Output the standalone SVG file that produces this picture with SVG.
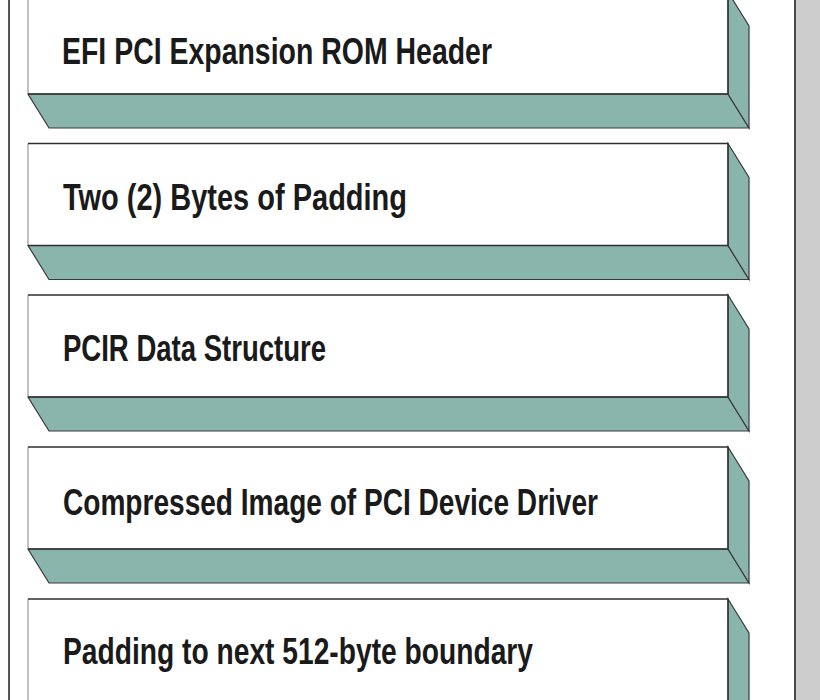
<svg xmlns="http://www.w3.org/2000/svg" width="820" height="700" viewBox="0 0 820 700">
<style>
.face{fill:#ffffff;stroke:none}
.edge{fill:none;stroke:#2f2f2f;stroke-width:1.3}
.ledge{fill:none;stroke:#a0a0a0;stroke-width:1.3}
.bev{fill:#89b5ad;stroke:#3a3a3a;stroke-width:1.2;stroke-linejoin:miter}
.lbl{font-family:"Liberation Sans",Arial,sans-serif;font-weight:bold;font-size:37px;fill:#1a1a1a}
</style>
<rect x="0" y="0" width="820" height="700" fill="#ffffff"/>
<line x1="9" y1="0" x2="9" y2="700" stroke="#555555" stroke-width="2"/>
<rect x="795" y="0" width="25" height="700" fill="#cccccc"/>
<line x1="795" y1="0" x2="795" y2="700" stroke="#4a4a4a" stroke-width="2"/>
<g id="box1" transform="translate(0,-8)">
<rect class="face" x="28" y="0" width="700" height="102"/>
<polygon class="bev" points="28,102 728,102 749,136 49,136"/>
<polygon class="bev" points="728,0 749,34 749,136 728,102"/>
<line class="ledge" x1="28" y1="0" x2="28" y2="102"/>
<polyline class="edge" points="28,0 728,0 728,102 28,102"/>
<text class="lbl" x="62" y="72" textLength="430" lengthAdjust="spacingAndGlyphs">EFI PCI Expansion ROM Header</text>
</g>
<g id="box2" transform="translate(0,143.5)">
<rect class="face" x="28" y="0" width="700" height="102"/>
<polygon class="bev" points="28,102 728,102 749,136 49,136"/>
<polygon class="bev" points="728,0 749,34 749,136 728,102"/>
<line class="ledge" x1="28" y1="0" x2="28" y2="102"/>
<polyline class="edge" points="28,0 728,0 728,102 28,102"/>
<text class="lbl" x="63" y="66" textLength="344" lengthAdjust="spacingAndGlyphs">Two (2) Bytes of Padding</text>
</g>
<g id="box3" transform="translate(0,295)">
<rect class="face" x="28" y="0" width="700" height="102"/>
<polygon class="bev" points="28,102 728,102 749,136 49,136"/>
<polygon class="bev" points="728,0 749,34 749,136 728,102"/>
<line class="ledge" x1="28" y1="0" x2="28" y2="102"/>
<polyline class="edge" points="28,0 728,0 728,102 28,102"/>
<text class="lbl" x="63" y="66" textLength="263" lengthAdjust="spacingAndGlyphs">PCIR Data Structure</text>
</g>
<g id="box4" transform="translate(0,447)">
<rect class="face" x="28" y="0" width="700" height="102"/>
<polygon class="bev" points="28,102 728,102 749,136 49,136"/>
<polygon class="bev" points="728,0 749,34 749,136 728,102"/>
<line class="ledge" x1="28" y1="0" x2="28" y2="102"/>
<polyline class="edge" points="28,0 728,0 728,102 28,102"/>
<text class="lbl" x="63" y="68" textLength="535" lengthAdjust="spacingAndGlyphs">Compressed Image of PCI Device Driver</text>
</g>
<g id="box5" transform="translate(0,599)">
<rect class="face" x="28" y="0" width="700" height="102"/>
<polygon class="bev" points="728,0 749,34 749,136 728,102"/>
<line class="ledge" x1="28" y1="0" x2="28" y2="102"/>
<polyline class="edge" points="28,0 728,0 728,102"/>
<text class="lbl" x="63" y="65" textLength="470" lengthAdjust="spacingAndGlyphs">Padding to next 512-byte boundary</text>
</g>
<g id="connectors"></g>
</svg>
